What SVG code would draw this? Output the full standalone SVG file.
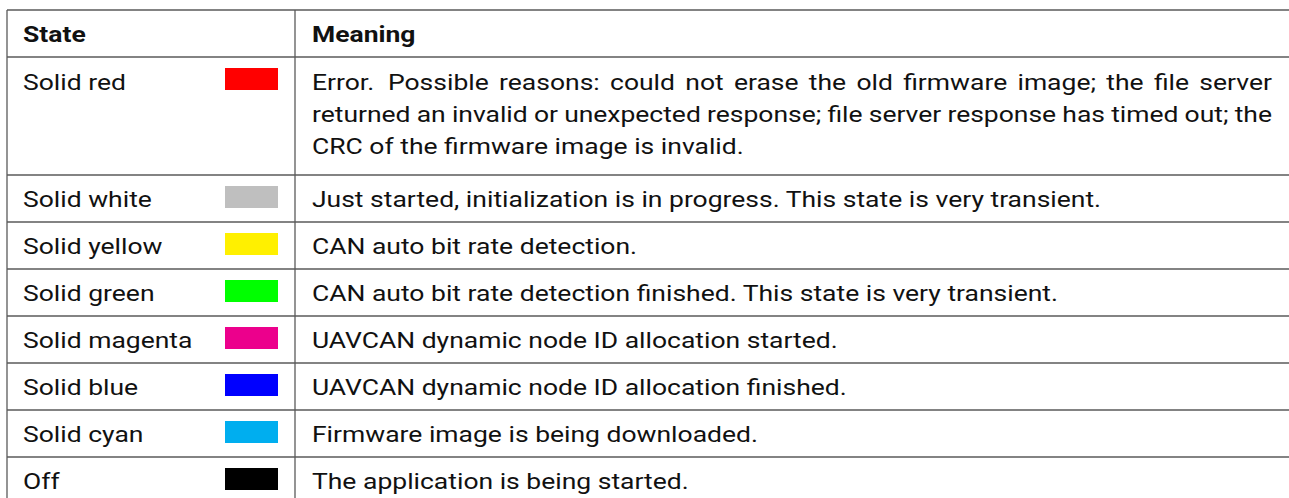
<svg xmlns="http://www.w3.org/2000/svg" width="1289" height="498" viewBox="0 0 1289 498">
<style>
text{font-family:Roboto,"Liberation Sans",sans-serif;font-size:23px;fill:#111}
.h{font-weight:bold}
.ln{stroke:#5a5a5a;stroke-width:1.3;fill:none}
</style>
<rect width="1289" height="498" fill="#fff"/>
<g id="grid">
<line class="ln" x1="7" y1="10" x2="1289" y2="10"/>
<line class="ln" x1="7" y1="57" x2="1289" y2="57"/>
<line class="ln" x1="7" y1="175" x2="1289" y2="175"/>
<line class="ln" x1="7" y1="222" x2="1289" y2="222"/>
<line class="ln" x1="7" y1="269" x2="1289" y2="269"/>
<line class="ln" x1="7" y1="316" x2="1289" y2="316"/>
<line class="ln" x1="7" y1="363" x2="1289" y2="363"/>
<line class="ln" x1="7" y1="410" x2="1289" y2="410"/>
<line class="ln" x1="7" y1="457" x2="1289" y2="457"/>
<line class="ln" x1="7" y1="10" x2="7" y2="498"/>
<line class="ln" x1="295" y1="10" x2="295" y2="498"/>
</g>
<g id="swatches">
<rect x="225" y="68" width="53" height="22" fill="#ff0000"/>
<rect x="225" y="186" width="53" height="22" fill="#bfbfbf"/>
<rect x="225" y="233" width="53" height="22" fill="#fff000"/>
<rect x="225" y="280" width="53" height="22" fill="#00ff00"/>
<rect x="225" y="327" width="53" height="22" fill="#ec008c"/>
<rect x="225" y="374" width="53" height="22" fill="#0000ff"/>
<rect x="225" y="421" width="53" height="22" fill="#00aeef"/>
<rect x="225" y="468" width="53" height="22" fill="#000000"/>
</g>
<g transform="scale(1.152 1)">
<g id="header">
<text class="h" x="19.97" y="42">State</text>
<text class="h" x="270.83" y="42">Meaning</text>
</g>
<g id="row-red">
<text x="19.97" y="90">Solid red</text>
<text x="270.83" y="90" word-spacing="3.2" textLength="833.3" lengthAdjust="spacing">Error.<tspan dx="3"> Possible reasons: could not erase the old firmware image; the file server</tspan></text>
<text x="270.83" y="122" word-spacing="-0.3" textLength="833.3" lengthAdjust="spacing">returned an invalid or unexpected response; file server response has timed out; the</text>
<text x="270.83" y="154">CRC of the firmware image is invalid.</text>
</g>
<g id="row-white">
<text x="19.97" y="207">Solid white</text>
<text x="270.83" y="207">Just started, initialization is in progress. This state is very transient.</text>
</g>
<g id="row-yellow">
<text x="19.97" y="254">Solid yellow</text>
<text x="270.83" y="254">CAN auto bit rate detection.</text>
</g>
<g id="row-green">
<text x="19.97" y="301">Solid green</text>
<text x="270.83" y="301">CAN auto bit rate detection finished. This state is very transient.</text>
</g>
<g id="row-magenta">
<text x="19.97" y="348">Solid magenta</text>
<text x="270.83" y="348">UAVCAN dynamic node ID allocation started.</text>
</g>
<g id="row-blue">
<text x="19.97" y="395">Solid blue</text>
<text x="270.83" y="395">UAVCAN dynamic node ID allocation finished.</text>
</g>
<g id="row-cyan">
<text x="19.97" y="442">Solid cyan</text>
<text x="270.83" y="442">Firmware image is being downloaded.</text>
</g>
<g id="row-off">
<text x="19.97" y="489">Off</text>
<text x="270.83" y="489">The application is being started.</text>
</g>
</g>
</svg>
